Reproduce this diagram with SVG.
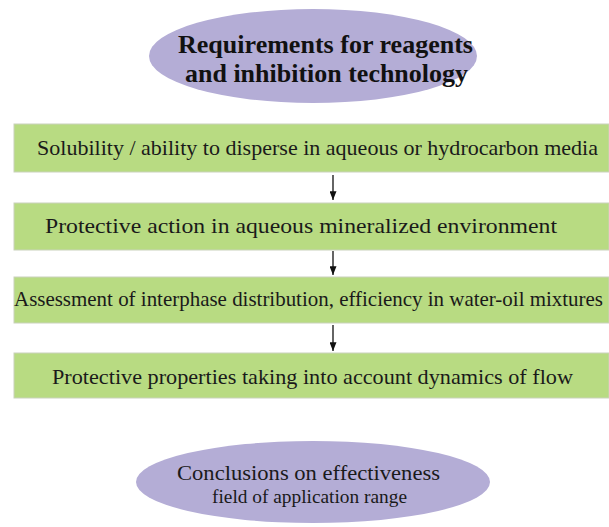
<svg xmlns="http://www.w3.org/2000/svg" width="609" height="527" viewBox="0 0 609 527">
  <style>
    .oval { fill: #b4add6; }
    .box { fill: #b8db82; stroke: #c9d2bb; stroke-width: 1; }
    text { font-family: 'Times New Roman', 'Liberation Serif', Tinos, 'Noto Serif', 'DejaVu Serif', FreeSerif, serif; fill: #1a1a1a; }
    .title { font-weight: bold; font-size: 26px; fill: #111; }
    .t { font-size: 22px; }
    .c1 { font-size: 22px; }
    .c2 { font-size: 19px; }
    .conn { stroke: #111; stroke-width: 1.3; fill: none; }
  </style>
  <defs>
    <marker id="arr" markerWidth="9" markerHeight="7" refX="10" refY="4" orient="auto" markerUnits="userSpaceOnUse" viewBox="0 0 10 8">
      <path d="M0,0 L10,4 L0,8 Z" fill="#111"/>
    </marker>
  </defs>
  <rect width="609" height="527" fill="#ffffff"/>

  <g id="title">
    <ellipse class="oval" cx="313" cy="56" rx="164" ry="47"/>
    <text class="title" x="178" y="53" textLength="295" lengthAdjust="spacingAndGlyphs">Requirements for reagents</text>
    <text class="title" x="185" y="82" textLength="283" lengthAdjust="spacingAndGlyphs">and inhibition technology</text>
  </g>

  <g id="step1">
    <rect class="box" x="14" y="124" width="595" height="48"/>
    <text class="t" x="37" y="155" textLength="561" lengthAdjust="spacingAndGlyphs">Solubility / ability to disperse in aqueous or hydrocarbon media</text>
  </g>

  <g id="step2">
    <rect class="box" x="14" y="203" width="595" height="47"/>
    <text class="t" x="45" y="233" textLength="512" lengthAdjust="spacingAndGlyphs">Protective action in aqueous mineralized environment</text>
  </g>

  <g id="step3">
    <rect class="box" x="14" y="277" width="595" height="46"/>
    <text class="t" x="14" y="306" textLength="589" lengthAdjust="spacingAndGlyphs">Assessment of interphase distribution, efficiency in water-oil mixtures</text>
  </g>

  <g id="step4">
    <rect class="box" x="14" y="353" width="595" height="45"/>
    <text class="t" x="52" y="384" textLength="521" lengthAdjust="spacingAndGlyphs">Protective properties taking into account dynamics of flow</text>
  </g>

  <g id="conclusion">
    <ellipse class="oval" cx="313" cy="482" rx="177" ry="41"/>
    <text class="c1" x="177" y="480" textLength="263" lengthAdjust="spacingAndGlyphs">Conclusions on effectiveness</text>
    <text class="c2" x="212" y="503" textLength="195" lengthAdjust="spacingAndGlyphs">field of application range</text>
  </g>

  <g id="connectors">
    <line class="conn" x1="333" y1="175" x2="333" y2="200" marker-end="url(#arr)"/>
    <line class="conn" x1="333" y1="251" x2="333" y2="275" marker-end="url(#arr)"/>
    <line class="conn" x1="333" y1="325" x2="333" y2="351" marker-end="url(#arr)"/>
  </g>
</svg>
